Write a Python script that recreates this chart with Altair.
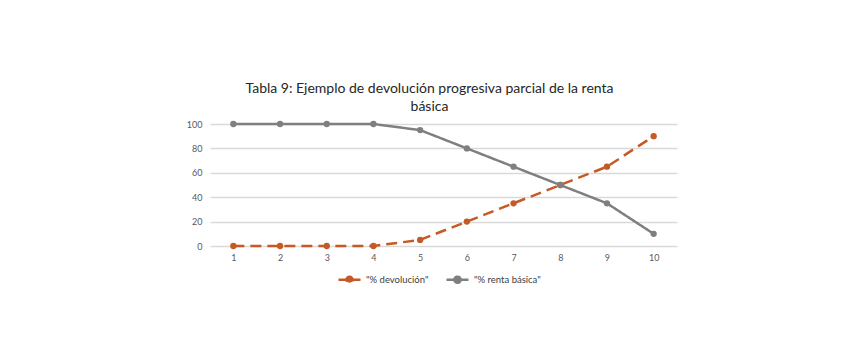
import altair as alt
import pandas as pd

x_vals = [1, 2, 3, 4, 5, 6, 7, 8, 9, 10]
devolucion = [0, 0, 0, 0, 5, 20, 35, 50, 65, 90]
renta = [100, 100, 100, 100, 95, 80, 65, 50, 35, 10]
series_names = ['"% devolución"', '"% renta básica"']
colors = ["#C55A24", "#7F7F7F"]

rows = []
for xv, d, r in zip(x_vals, devolucion, renta):
    rows.append({"x": xv, "serie": series_names[0], "v": d})
    rows.append({"x": xv, "serie": series_names[1], "v": r})
df = pd.DataFrame(rows)

color = alt.Color(
    "serie:N",
    scale=alt.Scale(domain=series_names, range=colors),
    legend=alt.Legend(
        title=None,
        orient="none",
        direction="horizontal",
        legendX=127,
        legendY=143,
        symbolType="M -1 0 L -0.28 0 M 0.28 0 L 1 0 M -0.28 0 A 0.28 0.28 0 1 1 0.28 0 A 0.28 0.28 0 1 1 -0.28 0 Z",
        symbolSize=484,
        symbolStrokeWidth=2.5,
        labelFont="Lato",
        labelFontSize=9.5,
        labelColor="#404040",
        columnPadding=12,
        labelOffset=4,
    ),
)

xenc = alt.X(
    "x:O",
    title=None,
    axis=alt.Axis(
        labelAngle=0,
        ticks=False,
        domain=False,
        labelFont="Lato",
        labelFontSize=9,
        labelColor="#595959",
        labelPadding=7,
    ),
    scale=alt.Scale(padding=0.5),
)
yenc = alt.Y(
    "v:Q",
    title=None,
    scale=alt.Scale(domain=[0, 100]),
    axis=alt.Axis(
        values=[0, 20, 40, 60, 80, 100],
        ticks=False,
        domain=False,
        grid=True,
        gridColor="#D9D9D9",
        gridWidth=1.5,
        labelFont="Lato",
        labelFontSize=9,
        labelColor="#595959",
        labelPadding=8,
    ),
)

base = alt.Chart(df)
lines = base.mark_line(strokeWidth=2.5).encode(
    x=xenc,
    y=yenc,
    color=color,
    strokeDash=alt.StrokeDash(
        "serie:N",
        scale=alt.Scale(domain=series_names, range=[[11, 6], [1, 0]]),
        legend=None,
    ),
)
points = base.mark_point(filled=True, size=40, opacity=1).encode(
    x=xenc, y=yenc, color=color
)

chart = (
    alt.layer(lines, points)
    .properties(
        width=467,
        height=122,
        autosize=alt.AutoSizeParams(type="none"),
        padding={"left": 202, "top": 116, "right": 177, "bottom": 106},
        title=alt.TitleParams(
            text=["Tabla 9: Ejemplo de devolución progresiva parcial de la renta", "básica"],
            font="Lato",
            fontSize=14,
            fontWeight="normal",
            color="#262626",
            anchor="middle",
            dx=-14,
            offset=5,
            lineHeight=18,
        ),
    )
    .configure_view(stroke=None)
)

chart.save("out.html", embed_options={"renderer": "svg", "actions": False})
